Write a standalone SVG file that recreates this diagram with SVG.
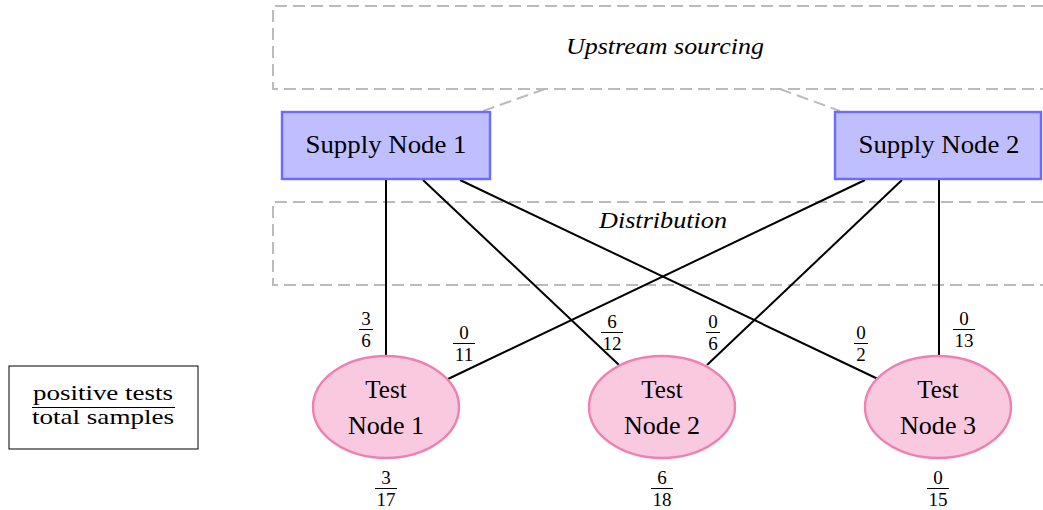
<svg xmlns="http://www.w3.org/2000/svg" width="1043" height="510" viewBox="0 0 1043 510">
<style>
text{font-family:"Liberation Serif","Times New Roman",serif;fill:#000}
.lbl{font-size:25px;text-anchor:middle}
.it{font-size:24px;font-style:italic;text-anchor:middle}
.fr{font-size:19px;text-anchor:middle}
.bar{stroke:#000;stroke-width:1}
.zone{fill:none;stroke:#bbb;stroke-width:2;stroke-dasharray:12,6}
.supply{fill:#bfbfff;stroke:#6b6bff;stroke-width:2.4}
.test{fill:#f9c9e0;stroke:#f080b0;stroke-width:2.4}
.edge{stroke:#000;stroke-width:2;fill:none}
</style>
<g id="zones">
<path class="zone" d="M1043,6 H273 V89 H1043"/>
<path class="zone" d="M1043,202 H273 V285 H1043"/>
<path class="zone" d="M545,89 L483,111 M780,89 L840,111"/>
<text class="it" x="665" y="54" textLength="198" lengthAdjust="spacingAndGlyphs">Upstream sourcing</text>
<text class="it" x="663" y="228" textLength="128" lengthAdjust="spacingAndGlyphs">Distribution</text>
</g>
<g id="connectors">
<line class="edge" x1="386" y1="180" x2="386" y2="356"/>
<line class="edge" x1="423" y1="180" x2="619" y2="365"/>
<line class="edge" x1="460" y1="180" x2="878" y2="379"/>
<line class="edge" x1="865" y1="180" x2="448" y2="379"/>
<line class="edge" x1="902" y1="180" x2="707" y2="365"/>
<line class="edge" x1="939" y1="180" x2="939" y2="356"/>
</g>
<g id="supply1">
<rect class="supply" x="282" y="112" width="208" height="67"/>
<text class="lbl" x="386" y="153" textLength="161" lengthAdjust="spacingAndGlyphs">Supply Node 1</text>
</g>
<g id="supply2">
<rect class="supply" x="835" y="112" width="206" height="67"/>
<text class="lbl" x="939" y="153" textLength="161" lengthAdjust="spacingAndGlyphs">Supply Node 2</text>
</g>
<g id="test1">
<ellipse class="test" cx="386" cy="407" rx="73" ry="51"/>
<text class="lbl" x="386" y="398">Test</text>
<text class="lbl" x="386" y="434" textLength="76" lengthAdjust="spacingAndGlyphs">Node 1</text>
</g>
<g id="test2">
<ellipse class="test" cx="662" cy="407" rx="73" ry="51"/>
<text class="lbl" x="662" y="398">Test</text>
<text class="lbl" x="662" y="434" textLength="76" lengthAdjust="spacingAndGlyphs">Node 2</text>
</g>
<g id="test3">
<ellipse class="test" cx="938" cy="407" rx="73" ry="51"/>
<text class="lbl" x="938" y="398">Test</text>
<text class="lbl" x="938" y="434" textLength="76" lengthAdjust="spacingAndGlyphs">Node 3</text>
</g>
<g id="edge-labels">
<text class="fr" x="366" y="325">3</text><line class="bar" x1="359" y1="329.5" x2="373" y2="329.5"/><text class="fr" x="366" y="347">6</text>
<text class="fr" x="464" y="339">0</text><line class="bar" x1="453" y1="343.5" x2="475" y2="343.5"/><text class="fr" x="464" y="361">11</text>
<text class="fr" x="612" y="328">6</text><line class="bar" x1="601" y1="332.5" x2="623" y2="332.5"/><text class="fr" x="612" y="350">12</text>
<text class="fr" x="713" y="328">0</text><line class="bar" x1="706" y1="332.5" x2="720" y2="332.5"/><text class="fr" x="713" y="350">6</text>
<text class="fr" x="861" y="339">0</text><line class="bar" x1="854" y1="343.5" x2="868" y2="343.5"/><text class="fr" x="861" y="361">2</text>
<text class="fr" x="964" y="325">0</text><line class="bar" x1="953" y1="329.5" x2="975" y2="329.5"/><text class="fr" x="964" y="347">13</text>
<text class="fr" x="386" y="484">3</text><line class="bar" x1="375" y1="488.5" x2="397" y2="488.5"/><text class="fr" x="386" y="506">17</text>
<text class="fr" x="662" y="484">6</text><line class="bar" x1="651" y1="488.5" x2="673" y2="488.5"/><text class="fr" x="662" y="506">18</text>
<text class="fr" x="938" y="484">0</text><line class="bar" x1="927" y1="488.5" x2="949" y2="488.5"/><text class="fr" x="938" y="506">15</text>
</g>
<g id="legend">
<rect x="9" y="366" width="189" height="83" fill="#fff" stroke="#000" stroke-width="1"/>
<text x="103" y="400" font-size="21" text-anchor="middle" textLength="140" lengthAdjust="spacingAndGlyphs">positive tests</text>
<line class="bar" x1="32" y1="407.5" x2="175" y2="407.5"/>
<text x="103" y="424" font-size="21" text-anchor="middle" textLength="142" lengthAdjust="spacingAndGlyphs">total samples</text>
</g>
</svg>
